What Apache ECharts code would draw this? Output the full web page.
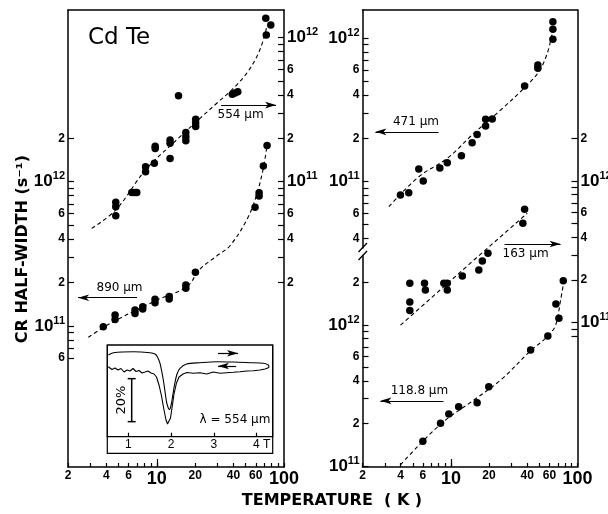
<!DOCTYPE html>
<html><head><meta charset="utf-8">
<script src="https://cdn.jsdelivr.net/npm/echarts@6/dist/echarts.min.js"></script>
<style>html,body{margin:0;padding:0;background:#fff}#c{width:608px;height:514px}</style>
</head><body><div id="c"></div>
<script>
// ---------------- data ----------------
const xTickValues = [2,3,4,5,6,7,8,9,10,20,30,40,50,60,70,80,90,100];
const xTickLabels = [2,4,6,10,20,40,60,100];

// y-axis ticks / labels (s^-1)
const ticks890 = [6e10,7e10,8e10,9e10,1e11,2e11,3e11,4e11,5e11,6e11,7e11,8e11,9e11,1e12,2e12];
const labels890 = [6e10,1e11,2e11,4e11,6e11,1e12,2e12];
const ticks554 = [2e10,3e10,4e10,5e10,6e10,7e10,8e10,9e10,1e11,2e11,3e11,4e11,5e11,6e11,7e11,8e11,9e11,1e12];
const labels554 = [2e10,4e10,6e10,1e11,2e11,4e11,6e11,1e12];
const ticks471 = [4e10,5e10,6e10,7e10,8e10,9e10,1e11,2e11,3e11,4e11,5e11,6e11,7e11,8e11,9e11,1e12];
const labels471 = [4e10,6e10,1e11,2e11,4e11,6e11,1e12];
const ticks118 = [1e11,2e11,3e11,4e11,5e11,6e11,7e11,8e11,9e11,1e12,2e12];
const labels118 = [1e11,2e11,4e11,6e11,1e12,2e12];
const ticks163 = [8e10,9e10,1e11,2e11,3e11,4e11,5e11,6e11,7e11,8e11,9e11,1e12,2e12];
const labels163 = [1e11,2e11,4e11,6e11,1e12,2e12];

// measured points [T (K), CR half-width (s^-1)]
const points890 = [[3.79,9.9e10],[4.69,1.19e11],[4.69,1.11e11],[6.73,1.29e11],[6.73,1.22e11],
  [7.74,1.36e11],[7.74,1.31e11],[9.67,1.53e11],[9.67,1.45e11],[12.5,1.60e11],[12.5,1.54e11],
  [16.9,1.92e11],[16.9,1.83e11],[20.1,2.36e11],[59.2,6.65e11],[63.7,8.4e11],[63.7,7.96e11],
  [68.8,1.285e12],[73.6,1.78e12]];
const curve890 = [[2.89,8.35e10],[4.28,1.04e11],[9.97,1.51e11],[17.2,1.87e11],[21.85,2.48e11],
  [29.6,3.06e11],[37.6,3.6e11],[50.9,5.43e11],[60.3,7.87e11],[68.8,1.24e12],[73.2,1.75e12]];

const points554 = [[4.75,7.2e10],[4.75,6.7e10],[4.75,5.8e10],[6.35,8.4e10],[6.7,8.4e10],[6.95,8.4e10],
  [8.15,1.27e11],[8.15,1.17e11],[9.55,1.34e11],[9.7,1.76e11],[9.7,1.70e11],
  [12.7,1.95e11],[12.7,1.85e11],[12.7,1.45e11],[14.8,3.95e11],
  [16.9,2.19e11],[16.9,2.05e11],[16.9,1.92e11],[20.2,2.71e11],[20.2,2.55e11],[20.2,2.41e11],
  [39.2,4.04e11],[41.2,4.12e11],[43.3,4.21e11],[71.9,1.36e12],[78.7,1.22e12],[72.6,1.04e12]];
const curve554 = [[3.07,4.75e10],[4.75,6.37e10],[8.17,1.21e11],[14.3,1.95e11],[21.85,2.75e11],
  [29.6,3.5e11],[39.95,4.44e11],[50.9,5.65e11],[61.1,7.36e11],[68.8,9.6e11],[73.2,1.19e12]];

const points471 = [[3.99,8.05e10],[4.64,8.36e10],[5.57,1.22e11],[6.04,1.01e11],[8.17,1.24e11],
  [9.35,1.35e11],[12.1,1.51e11],[14.7,1.86e11],[16.1,2.13e11],[18.8,2.71e11],[18.8,2.44e11],
  [21.2,2.73e11],[38.2,4.63e11],[48.6,6.48e11],[48.6,6.15e11],[63.9,1.30e12],[63.9,1.15e12],[63.9,9.8e11]];
const curve471 = [[3.23,6.68e10],[5.57,1.08e11],[9.35,1.45e11],[15.2,2.17e11],[24.7,3.15e11],
  [37.7,4.46e11],[49.5,5.82e11],[57.7,7.82e11],[63.2,1.08e12]];

const points163 = [[4.73,1.9e11],[4.73,1.4e11],[4.73,1.22e11],[6.18,1.9e11],[6.28,1.7e11],
  [8.79,1.9e11],[9.35,1.9e11],[9.35,1.7e11],[12.3,2.14e11],[16.6,2.35e11],[17.7,2.73e11],
  [19.6,3.09e11],[37.0,5.03e11],[38.2,6.31e11]];
const curve163 = [[3.99,9.6e10],[15.2,2.77e11],[40.1,5.92e11]];

const points118 = [[6.0,1.50e11],[8.27,2.01e11],[9.62,2.34e11],[11.5,2.63e11],[16.1,2.81e11],
  [19.9,3.65e11],[42.6,6.65e11],[58.3,8.36e11],[71.3,1.115e12],[67.5,1.41e12],[77.2,2.06e12]];
const curve118 = [[3.99,1.02e11],[8.27,1.98e11],[15.2,2.94e11],[24.7,4.07e11],[42.6,6.57e11],
  [57.7,8.26e11],[67.2,1.0e12],[73.5,1.5e12],[78.0,2.03e12]];

// inset: transmission (%) vs magnetic field B (T)
const insetTicks = [1,2,3,4];
const insetUp = [[0.533,38.0],[0.650,39.07],[1.117,39.53],[1.507,39.07],[1.624,38.47],[1.678,37.21],
  [1.741,34.14],[1.818,26.37],[1.869,19.40],[1.904,15.21],[1.963,12.65],[1.998,14.51],[2.033,18.47],
  [2.079,24.05],[2.138,29.16],[2.208,31.81],[2.364,33.81],[2.675,34.42],[3.065,34.88],[3.453,34.74],
  [3.843,34.42],[4.154,34.14],[4.271,33.35],[4.287,32.19]];
const insetDown = [[0.533,32.56],[0.619,31.26],[0.689,31.95],[0.759,31.02],[0.829,31.72],[0.900,30.09],
  [0.970,31.02],[1.040,30.56],[1.110,31.72],[1.180,30.33],[1.250,30.79],[1.320,29.63],[1.390,30.09],
  [1.460,30.56],[1.530,29.63],[1.600,29.16],[1.659,27.77],[1.717,24.05],[1.776,18.93],[1.834,12.42],
  [1.881,7.77],[1.916,5.91],[1.951,6.37],[1.986,8.70],[2.021,13.35],[2.068,19.86],[2.126,24.98],
  [2.185,27.77],[2.278,29.16],[2.371,29.86],[2.519,29.49],[2.675,29.77],[2.832,29.16],[2.986,30.09],
  [3.143,29.49],[3.299,29.77],[3.453,29.95],[3.610,30.23],[3.766,30.56],[3.921,30.70],[4.077,31.02],
  [4.194,31.49],[4.287,32.19]];
const scaleBar = [[1.079,7],[1.079,27]]; // 20 % bar

// ---------------- styling helpers ----------------
const FONT = '"DejaVu Sans", sans-serif';
const NUMFONT = '"Liberation Sans", Arial, sans-serif';
const BLACK = '#000';
const yRich = {
  n: {fontSize: 12, fontWeight: 'bold', fontFamily: NUMFONT, color: BLACK},
  b: {fontSize: 17, fontWeight: 'bold', fontFamily: NUMFONT, color: BLACK, lineHeight: 22},
  s: {fontSize: 11, fontWeight: 'bold', fontFamily: NUMFONT, color: BLACK, lineHeight: 11, verticalAlign: 'top'}
};
const xRich = {
  n: {fontSize: 12, fontWeight: 'bold', fontFamily: NUMFONT, color: BLACK},
  b: {fontSize: 18, fontWeight: 'bold', fontFamily: NUMFONT, color: BLACK}
};
function yFmt(v) {
  const e = Math.floor(Math.log10(v) + 1e-6);
  const m = Math.round(v / Math.pow(10, e));
  return m === 1 ? '{b|10}{s|' + e + '}' : '{n|' + m + '}';
}
function yLog(gi, pos, exps, ticks, labels) {
  return {type: 'log', gridIndex: gi, position: pos,
    min: Math.pow(10, exps[0]), max: Math.pow(10, exps[1]),
    axisLine: {show: true, onZero: false, lineStyle: {color: BLACK, width: 1.5}},
    axisTick: {show: true, inside: true, length: 6, customValues: ticks, lineStyle: {color: BLACK, width: 1.2}},
    axisLabel: {show: true, customValues: labels, formatter: yFmt, rich: yRich, margin: 3},
    splitLine: {show: false}};
}
function xMain(gi) {
  return {type: 'log', gridIndex: gi, min: 2, max: 100, position: 'bottom',
    axisLine: {show: true, onZero: false, lineStyle: {color: BLACK, width: 1.5}},
    axisTick: {show: true, inside: true, length: 4, customValues: xTickValues, lineStyle: {color: BLACK, width: 1.2}},
    axisLabel: {show: true, customValues: xTickLabels, margin: 3, rich: xRich,
      formatter: v => (Math.abs(v - 10) < 1e-6 || Math.abs(v - 100) < 1e-6) ? '{b|' + v + '}' : '{n|' + v + '}'},
    splitLine: {show: false}};
}
function xTop(gi) {
  return {type: 'log', gridIndex: gi, min: 2, max: 100, position: 'top',
    axisLine: {show: true, onZero: false, lineStyle: {color: BLACK, width: 1.5}},
    axisTick: {show: false}, axisLabel: {show: false}, splitLine: {show: false}};
}
function xLongTick(gi) {
  return {type: 'log', gridIndex: gi, min: 2, max: 100, position: 'bottom',
    axisLine: {show: false, onZero: false}, axisLabel: {show: false}, splitLine: {show: false},
    axisTick: {show: true, inside: true, length: 8, customValues: [10], lineStyle: {color: BLACK, width: 1.2}}};
}
function xHidden(gi, type, min, max) {
  return {type: type, gridIndex: gi, min: min, max: max, show: false};
}
function arrow(x0, x1, y, dir, text, pos, pad) {
  return {
    silent: true, animation: false,
    symbol: dir === 'left' ? ['arrow', 'none'] : ['none', 'arrow'],
    symbolSize: [5, 11],
    lineStyle: {type: 'solid', color: BLACK, width: 1.2},
    emphasis: {disabled: true},
    label: {show: !!text, formatter: text || '', position: pos, color: BLACK, fontSize: 12,
      fontFamily: FONT, distance: 4, padding: pad || 0},
    data: [[{coord: [x0, y]}, {coord: [x1, y]}]]
  };
}
function dots(xi, yi, data, ml) {
  const s = {type: 'scatter', xAxisIndex: xi, yAxisIndex: yi, data: data, symbolSize: 7.5,
    itemStyle: {color: BLACK, opacity: 1}, clip: false, silent: true};
  if (ml) s.markLine = ml;
  return s;
}
function dashed(xi, yi, data) {
  return {type: 'line', xAxisIndex: xi, yAxisIndex: yi, data: data, smooth: 0.35, symbol: 'none',
    showSymbol: false, clip: false, silent: true, lineStyle: {color: BLACK, width: 1.1, type: [4, 3]}};
}

const grids = [
  {left: 68, top: 10, width: 216, height: 457},        // 0 left panel
  {left: 68, top: 10, width: 216, height: 457},        // 1 left panel long tick
  {left: 362.5, top: 10, width: 215, height: 457},     // 2 right panel frame (163 µm)
  {left: 362.5, top: 10, width: 215, height: 238},     // 3 right upper (471 µm)
  {left: 362.5, top: 256, width: 215, height: 211},    // 4 right lower (118.8 µm)
  {left: 107.3, top: 345, width: 165.4, height: 108.3, show: true, borderColor: BLACK, borderWidth: 1.2, backgroundColor: '#fff'}, // 5 inset outer
  {left: 107.3, top: 345, width: 165.4, height: 91.7, show: true, borderColor: BLACK, borderWidth: 1.2}  // 6 inset plot
].map(g => Object.assign({containLabel: false, outerBoundsMode: 'none'}, g));

const option = {
  animation: false,
  backgroundColor: '#fff',
  grid: grids,
  xAxis: [
    xMain(0), xTop(0), xLongTick(1),
    xMain(2), xTop(2), xHidden(3, 'log', 2, 100), xLongTick(4),
    xHidden(5, 'value', 0, 1),
    {type: 'value', gridIndex: 6, min: 0.509, max: 4.374, position: 'bottom',
      axisLine: {show: true, onZero: false, lineStyle: {color: BLACK, width: 1.2}},
      axisTick: {show: true, inside: true, length: 4, customValues: insetTicks, lineStyle: {color: BLACK, width: 1.2}},
      axisLabel: {show: true, customValues: insetTicks, margin: 2,
        formatter: v => v === 4 ? '{p|4 T}' : '{n|' + v + '}',
        rich: {n: {fontSize: 12, fontFamily: NUMFONT, color: BLACK},
               p: {fontSize: 12, fontFamily: NUMFONT, color: BLACK, padding: [0, 0, 0, 10]}}},
      splitLine: {show: false}}
  ],
  yAxis: [
    yLog(0, 'left', [10.0229, 13.1899], ticks890, labels890),   // 0  890 µm
    yLog(0, 'right', [9.0215, 12.1907], ticks554, labels554),   // 1  554 µm
    {type: 'value', gridIndex: 1, show: false},                  // 2
    yLog(2, 'right', [9.9816, 13.2068], ticks163, labels163),   // 3  163 µm
    yLog(3, 'left', [10.5366, 12.1951], ticks471, labels471),   // 4  471 µm
    yLog(4, 'left', [10.9929, 12.4894], ticks118, labels118),   // 5  118.8 µm
    {type: 'value', gridIndex: 5, show: false},                  // 6
    {type: 'value', gridIndex: 6, min: 0, max: 42.65, show: false} // 7 inset
  ],
  series: [
    dots(0, 0, points890, arrow(2.40, 6.98, 1.57e11, 'left', '890 µm', 'insideMiddleTop', [0, 0, 0, 24])),
    dashed(0, 0, curve890),
    dots(0, 1, points554, arrow(32.0, 86.6, 3.4e11, 'right', '554 µm', 'insideMiddleBottom', [0, 16, 0, 0])),
    dashed(0, 1, curve554),
    dots(5, 4, points471, arrow(2.53, 7.98, 2.22e11, 'left', '471 µm', 'insideMiddleTop', [0, 0, 0, 18])),
    dashed(5, 4, curve471),
    dots(3, 3, points163, arrow(26.5, 73.5, 3.59e11, 'right', '163 µm', 'insideMiddleBottom', [0, 14, 0, 0])),
    {type: 'line', xAxisIndex: 3, yAxisIndex: 3, data: curve163, smooth: false, symbol: 'none', showSymbol: false,
      clip: false, silent: true, lineStyle: {color: BLACK, width: 1.1, type: [4, 3]}},
    dots(6, 5, points118, arrow(2.77, 8.73, 2.90e11, 'left', '118.8 µm', 'insideMiddleTop', [0, 0, 0, 15])),
    dashed(6, 5, curve118),
    {type: 'line', xAxisIndex: 8, yAxisIndex: 7, data: insetUp, smooth: 0.3, symbol: 'none', showSymbol: false,
      silent: true, lineStyle: {color: BLACK, width: 1.1},
      markLine: arrow(3.096, 3.563, 38.8, 'right', '', 'middle')},
    {type: 'line', xAxisIndex: 8, yAxisIndex: 7, data: insetDown, smooth: false, symbol: 'none', showSymbol: false,
      silent: true, lineStyle: {color: BLACK, width: 1.1},
      markLine: arrow(3.096, 3.52, 32.9, 'left', '', 'middle')},
    {type: 'line', xAxisIndex: 8, yAxisIndex: 7, data: scaleBar, symbol: 'rect', symbolSize: [8, 1.5],
      showSymbol: true, silent: true, lineStyle: {color: BLACK, width: 1.5}, itemStyle: {color: BLACK}}
  ],
  graphic: [
    {type: 'text', x: 88, y: 38, silent: true,
      style: {text: 'Cd Te', fill: BLACK, font: '23px "DejaVu Sans"', align: 'left', textAlign: 'left',
        verticalAlign: 'middle', textVerticalAlign: 'middle'}},
    {type: 'text', x: 23, y: 249, rotation: Math.PI / 2, silent: true,
      style: {text: 'CR HALF-WIDTH (s\u207B\u00B9)', fill: BLACK, font: 'bold 16px "DejaVu Sans"',
        align: 'center', textAlign: 'center', verticalAlign: 'middle', textVerticalAlign: 'middle'}},
    {type: 'text', x: 332, y: 501, silent: true,
      style: {text: 'TEMPERATURE  ( K )', fill: BLACK, font: 'bold 16px "DejaVu Sans"',
        align: 'center', textAlign: 'center', verticalAlign: 'middle', textVerticalAlign: 'middle'}},
    {type: 'text', x: 122, y: 400, rotation: Math.PI / 2, silent: true,
      style: {text: '20%', fill: BLACK, font: '13px "DejaVu Sans"',
        align: 'center', textAlign: 'center', verticalAlign: 'middle', textVerticalAlign: 'middle'}},
    {type: 'text', x: 235, y: 420, silent: true,
      style: {text: '\u03BB = 554 \u00B5m', fill: BLACK, font: '12px "DejaVu Sans"',
        align: 'center', textAlign: 'center', verticalAlign: 'middle', textVerticalAlign: 'middle'}},
    {type: 'line', silent: true, shape: {x1: 358.5, y1: 252, x2: 367, y2: 243}, style: {stroke: BLACK, lineWidth: 1.3}},
    {type: 'line', silent: true, shape: {x1: 358.5, y1: 260, x2: 367, y2: 251}, style: {stroke: BLACK, lineWidth: 1.3}}
  ]
};

const chart = echarts.init(document.getElementById('c'), null, {renderer: 'canvas', width: 608, height: 514});
chart.setOption(option);
</script>
</body></html>
